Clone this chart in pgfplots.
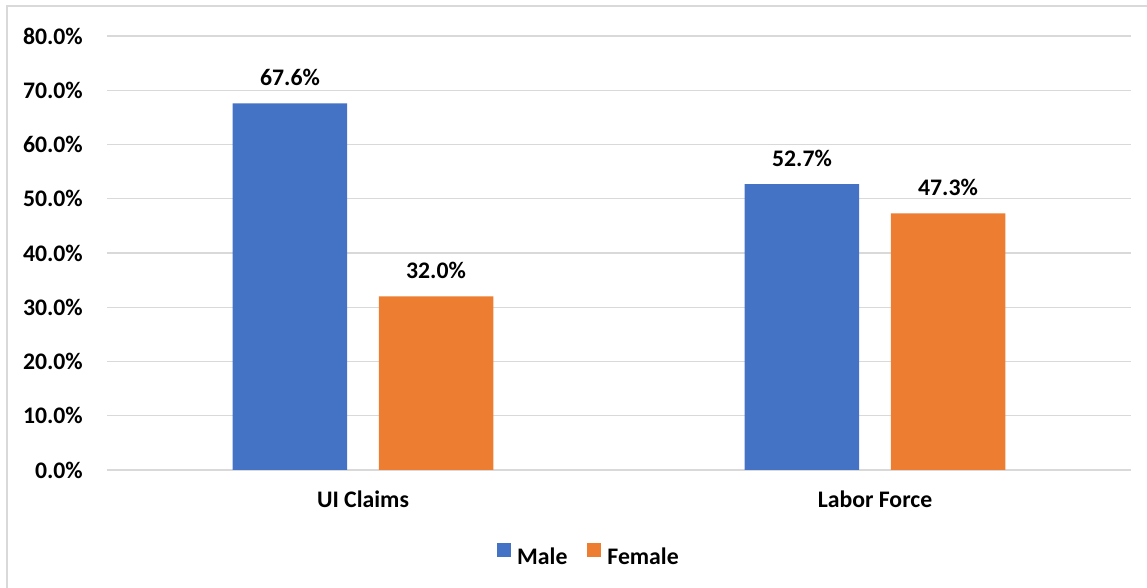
\documentclass[border=0pt]{standalone}
\usepackage{pgfplots}
\pgfplotsset{compat=1.18}
\usepackage{fontspec}
\setmainfont{Carlito}
\definecolor{male}{HTML}{4472C4}
\definecolor{female}{HTML}{ED7D31}
\definecolor{gridgray}{HTML}{D9D9D9}
\newcommand{\chartfont}{\fontsize{17.8}{21}\selectfont\bfseries}

\begin{document}
\begin{tikzpicture}
\begin{axis}[
  scale only axis, width=768pt, height=325.5pt,
  xmin=-0.5, xmax=1.5, ymin=0, ymax=80,
  xtick={0,1}, xticklabels={UI Claims, Labor Force},
  ytick={0,10,...,80},
  yticklabels={0.0\%,10.0\%,20.0\%,30.0\%,40.0\%,50.0\%,60.0\%,70.0\%,80.0\%},
  ymajorgrids, grid style={gridgray, line width=1.1pt},
  axis lines*=left,
  y axis line style={draw=none},
  x axis line style={gridgray, line width=1.1pt},
  major tick length=0pt,
  ticklabel style={font=\chartfont},
  yticklabel style={anchor=east, inner sep=0pt, xshift=-18pt},
  xticklabel style={anchor=base, inner sep=0pt, yshift=-28.5pt},
  ybar, bar width=0.2236,
  /pgf/number format/assume math mode=true,
  nodes near coords={\pgfmathprintnumber[fixed,fixed zerofill,precision=1]{\pgfplotspointmeta}\%},
  nodes near coords style={font=\chartfont, anchor=base, inner sep=0pt, yshift=13.5pt},
  legend columns=2,
  legend style={at={(0.4697,-0.1959)}, anchor=center, draw=none, fill=none,
    font=\chartfont, inner sep=0pt, nodes={inner sep=0pt},
    /tikz/every odd column/.append style={column sep=4.5pt},
    /tikz/every even column/.append style={column sep=15pt}},
]
\addplot[fill=male, draw=none, bar shift=-0.1426,
  legend image code/.code={\fill[male] (0pt,0pt) rectangle (10.5pt,10.5pt);}]
  coordinates {(0,67.6) (1,52.7)};
\addplot[fill=female, draw=none, bar shift=0.1426,
  legend image code/.code={\fill[female] (0pt,0pt) rectangle (10.5pt,10.5pt);}]
  coordinates {(0,32.0) (1,47.3)};
\legend{Male, Female}
\end{axis}
\draw[gridgray, line width=1.1pt] (-75pt,-95pt) -- (-75pt,348pt) -- (790pt,348pt);
\pgfresetboundingbox
\useasboundingbox (-80.25pt,-88.5pt) rectangle (780pt,352.5pt);
\end{tikzpicture}
\end{document}
